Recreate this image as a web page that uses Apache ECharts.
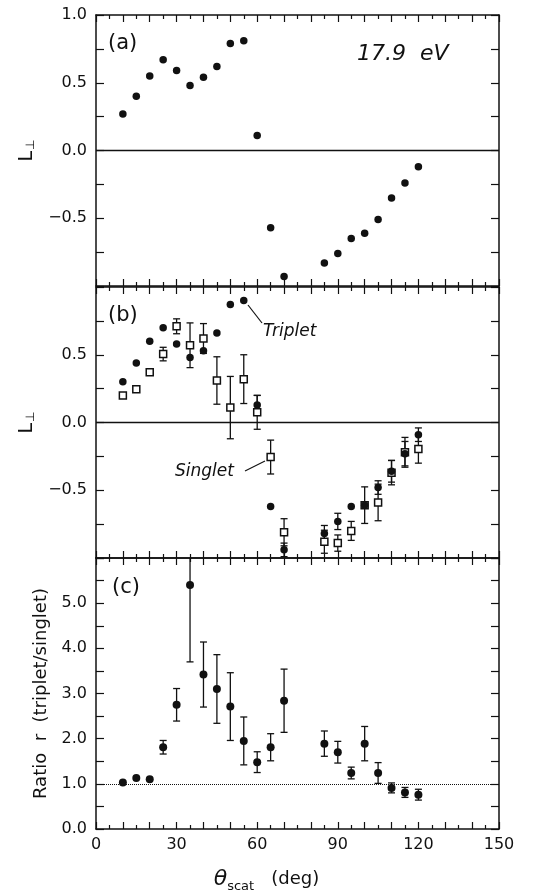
<!DOCTYPE html>
<html>
<head>
<meta charset="utf-8">
<script src="https://cdn.jsdelivr.net/npm/echarts@6/dist/echarts.min.js"></script>
<style>
  html, body { margin: 0; padding: 0; background: #fff; }
  #chart { width: 544px; height: 894px; }
</style>
</head>
<body>
<div id="chart"></div>
<script>
// scattering angles (deg), same for all three panels
const angles = [10, 15, 20, 25, 30, 35, 40, 45, 50, 55, 60, 65, 70, 85, 90, 95, 100, 105, 110, 115, 120];

// (a) L_perp at 17.9 eV
const lPerpA = [0.27, 0.40, 0.55, 0.67, 0.59, 0.48, 0.54, 0.62, 0.79, 0.81, 0.11, -0.57, -0.93, -0.83, -0.76, -0.65, -0.61, -0.51, -0.35, -0.24, -0.12];

// (b) triplet / singlet L_perp with errors
const tripletB = [0.30, 0.44, 0.60, 0.70, 0.58, 0.48, 0.53, 0.66, 0.87, 0.90, 0.13, -0.62, -0.94, -0.82, -0.73, -0.62, -0.61, -0.48, -0.36, -0.23, -0.09];
const tripletErr = [0, 0, 0, 0, 0, 0, 0, 0, 0, 0, 0.07, 0, 0.05, 0.06, 0.06, 0, 0, 0.05, 0.08, 0.09, 0.05];
const singletB = [0.20, 0.245, 0.37, 0.505, 0.71, 0.57, 0.62, 0.31, 0.11, 0.32, 0.075, -0.255, -0.81, -0.88, -0.89, -0.80, -0.61, -0.59, -0.37, -0.22, -0.195];
const singletErr = [0.02, 0.02, 0.02, 0.05, 0.055, 0.165, 0.11, 0.175, 0.23, 0.18, 0.125, 0.125, 0.10, 0.085, 0.06, 0.07, 0.135, 0.135, 0.09, 0.11, 0.105];

// (c) ratio triplet/singlet
const ratio = [1.03, 1.13, 1.10, 1.81, 2.75, 5.40, 3.42, 3.10, 2.71, 1.95, 1.48, 1.81, 2.84, 1.89, 1.70, 1.24, 1.89, 1.24, 0.91, 0.81, 0.76];
const ratioErr = [0, 0, 0, 0.15, 0.36, 1.70, 0.72, 0.76, 0.75, 0.53, 0.23, 0.30, 0.70, 0.28, 0.24, 0.13, 0.38, 0.23, 0.11, 0.11, 0.12];

const xLabels = [0, 30, 60, 90, 120, 150];

const FONT = 'DejaVu Sans';
const INK = '#111';

const grids = [
  { left: 96, top: 15, width: 403, height: 271 },
  { left: 96, top: 287, width: 403, height: 271 },
  { left: 96, top: 558, width: 403, height: 272 }
];

function xAxisFor(gridIndex, position, showLabels) {
  return {
    type: 'value', gridIndex, position, min: 0, max: 150, interval: 10,
    axisLine: { show: true, onZero: false, lineStyle: { color: INK, width: 1.5 } },
    axisTick: { show: true, inside: true, length: 7, lineStyle: { color: INK, width: 1.2 } },
    minorTick: { show: true, splitNumber: 2, length: 4, lineStyle: { color: INK, width: 1.2 } },
    splitLine: { show: false },
    axisLabel: {
      show: showLabels, margin: 8, color: INK, fontFamily: FONT, fontSize: 16,
      formatter: v => (xLabels.indexOf(v) >= 0 ? String(v) : '')
    }
  };
}

function fmtMinus(v) {
  const s = Math.abs(v).toFixed(1);
  return v < 0 ? '\u2212' + s : s;
}

function yAxisFor(gridIndex, position, min, max, interval, labelVals, name, nameGap) {
  const ax = {
    type: 'value', gridIndex, position, min, max, interval,
    axisLine: { show: true, onZero: false, lineStyle: { color: INK, width: 1.5 } },
    axisTick: { show: true, inside: true, length: 8, lineStyle: { color: INK, width: 1.2 } },
    splitLine: { show: false },
    axisLabel: { show: false }
  };
  if (labelVals) {
    ax.axisLabel = {
      show: true, margin: 9, color: INK, fontFamily: FONT, fontSize: 16,
      formatter: v => (labelVals.some(t => Math.abs(t - v) < 1e-6) ? fmtMinus(v) : '')
    };
  }
  if (name) {
    ax.name = name.text;
    ax.nameLocation = 'middle';
    ax.nameRotate = 90;
    ax.nameGap = nameGap;
    ax.nameTextStyle = name.style;
  }
  return ax;
}

const lName = {
  text: '{l|L}{s|\u22a5}',
  style: {
    color: INK, fontFamily: FONT,
    rich: {
      l: { fontSize: 19, fontFamily: FONT, color: INK },
      s: { fontSize: 12, fontFamily: FONT, color: INK, padding: [8, 0, 0, 1] }
    }
  }
};
const rName = {
  text: 'Ratio  r  (triplet/singlet)',
  style: { color: INK, fontFamily: FONT, fontSize: 18 }
};

const xAxes = [
  xAxisFor(0, 'bottom', false), xAxisFor(0, 'top', false),
  xAxisFor(1, 'bottom', false), xAxisFor(1, 'top', false),
  xAxisFor(2, 'bottom', true), xAxisFor(2, 'top', false)
];
xAxes[4].name = '{t|\u03b8}{s|scat}{d|   (deg)}';
xAxes[4].nameLocation = 'middle';
xAxes[4].nameGap = 37;
xAxes[4].nameTextStyle = {
  color: INK, fontFamily: FONT, padding: [0, 62, 0, 0],
  rich: {
    t: { fontSize: 22, fontStyle: 'italic', fontFamily: FONT, color: INK },
    s: { fontSize: 13, fontFamily: FONT, color: INK, padding: [14, 0, 0, 0] },
    d: { fontSize: 18, fontFamily: FONT, color: INK }
  }
};

const yAxes = [
  yAxisFor(0, 'left', -1, 1, 0.25, [1, 0.5, 0, -0.5], lName, 50),
  yAxisFor(0, 'right', -1, 1, 0.25, null),
  yAxisFor(1, 'left', -1, 1, 0.25, [0.5, 0, -0.5], lName, 50),
  yAxisFor(1, 'right', -1, 1, 0.25, null),
  yAxisFor(2, 'left', 0, 6, 0.5, [0, 1, 2, 3, 4, 5], rName, 46),
  yAxisFor(2, 'right', 0, 6, 0.5, null)
];

function pairs(ys) { return angles.map((a, i) => [a, ys[i]]); }
function triples(ys, es) { return angles.map((a, i) => [a, ys[i], es[i]]); }

function errorBars(xi, yi, data) {
  return {
    type: 'custom', xAxisIndex: xi, yAxisIndex: yi, clip: true, silent: true, z: 2,
    data,
    renderItem: (params, api) => {
      const x = api.value(0), y = api.value(1), e = api.value(2);
      if (!e) return null;
      const hi = api.coord([x, y + e]);
      const lo = api.coord([x, y - e]);
      const cap = 3.5;
      const st = { stroke: INK, lineWidth: 1.3 };
      return {
        type: 'group',
        children: [
          { type: 'line', shape: { x1: hi[0], y1: hi[1], x2: lo[0], y2: lo[1] }, style: st },
          { type: 'line', shape: { x1: hi[0] - cap, y1: hi[1], x2: hi[0] + cap, y2: hi[1] }, style: st },
          { type: 'line', shape: { x1: lo[0] - cap, y1: lo[1], x2: lo[0] + cap, y2: lo[1] }, style: st }
        ]
      };
    }
  };
}

function dots(xi, yi, data, extra) {
  return Object.assign({
    type: 'scatter', xAxisIndex: xi, yAxisIndex: yi, data,
    symbol: 'circle', symbolSize: 7.5, z: 4, silent: true,
    itemStyle: { color: INK, opacity: 1 }
  }, extra || {});
}

function refLine(value, type, width) {
  return {
    silent: true, symbol: 'none', label: { show: false },
    lineStyle: { color: INK, type, width },
    data: [{ yAxis: value }]
  };
}

const series = [
  dots(0, 0, pairs(lPerpA), { markLine: refLine(0, 'solid', 1.3) }),

  errorBars(2, 2, triples(singletB, singletErr)),
  errorBars(2, 2, triples(tripletB, tripletErr)),
  {
    type: 'scatter', xAxisIndex: 2, yAxisIndex: 2, data: pairs(singletB),
    symbol: 'rect', symbolSize: 7, z: 3, silent: true,
    itemStyle: { color: '#fff', borderColor: INK, borderWidth: 1.5, opacity: 1 },
    markLine: refLine(0, 'solid', 1.3)
  },
  dots(2, 2, pairs(tripletB)),

  errorBars(4, 4, triples(ratio, ratioErr)),
  dots(4, 4, pairs(ratio), { symbolSize: 8, markLine: refLine(1, 'dotted', 1) })
];

const textStyle = (size, italic) => ({
  fill: INK, font: (italic ? 'italic ' : '') + size + 'px "' + FONT + '"'
});

const graphic = [
  { type: 'text', left: 108, top: 33, style: Object.assign({ text: '(a)' }, textStyle(21)) },
  { type: 'text', left: 108, top: 305, style: Object.assign({ text: '(b)' }, textStyle(21)) },
  { type: 'text', left: 112, top: 577, style: Object.assign({ text: '(c)' }, textStyle(21)) },
  { type: 'text', left: 357, top: 43, style: Object.assign({ text: '17.9  eV' }, textStyle(22, true)) },
  { type: 'text', left: 263, top: 323, style: Object.assign({ text: 'Triplet' }, textStyle(17, true)) },
  { type: 'text', left: 175, top: 463, style: Object.assign({ text: 'Singlet' }, textStyle(17, true)) },
  { type: 'line', shape: { x1: 248, y1: 305, x2: 262, y2: 323 }, style: { stroke: INK, lineWidth: 1.2 } },
  { type: 'line', shape: { x1: 245, y1: 471, x2: 265, y2: 461 }, style: { stroke: INK, lineWidth: 1.2 } }
];

const chart = echarts.init(document.getElementById('chart'), null, { renderer: 'canvas' });
chart.setOption({
  backgroundColor: '#fff',
  animation: false,
  grid: grids,
  xAxis: xAxes,
  yAxis: yAxes,
  series,
  graphic
});
</script>
</body>
</html>
